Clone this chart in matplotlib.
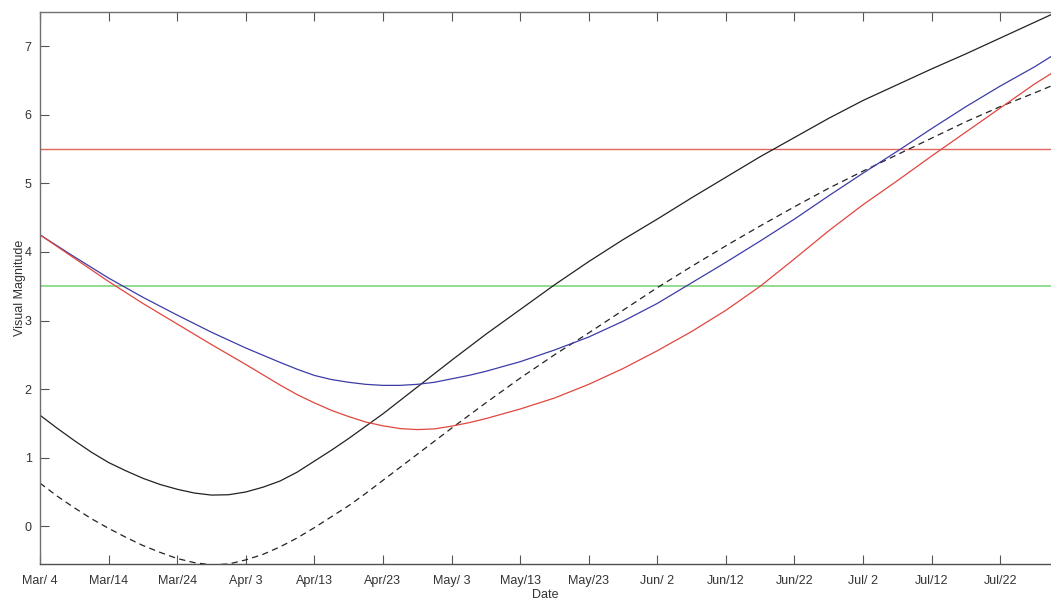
import matplotlib
matplotlib.use("Agg")
import matplotlib.pyplot as plt

plt.rcParams["font.family"] = ["Liberation Sans", "DejaVu Sans"]

# day offsets are counted from Mar 4
days_black = [0, 2.5, 5, 7.5, 10, 12.5, 15, 17.5, 20, 22.5, 25, 27.5, 30,
              32.5, 35, 37.5, 40, 42.5, 45, 47.5, 50, 55, 60, 65, 70, 75,
              80, 85, 90, 95, 100, 105, 110, 115, 120, 125, 130, 135, 140,
              145, 147.4]

mag_solid = [1.62, 1.43, 1.25, 1.08, 0.93, 0.81, 0.70, 0.61, 0.54, 0.485,
             0.455, 0.46, 0.50, 0.57, 0.66, 0.79, 0.95, 1.11, 1.28, 1.46,
             1.64, 2.03, 2.42, 2.80, 3.16, 3.52, 3.86, 4.18, 4.48, 4.79,
             5.09, 5.39, 5.67, 5.95, 6.21, 6.44, 6.67, 6.89, 7.12, 7.35, 7.46]

mag_dashed = [0.63, 0.44, 0.27, 0.11, -0.03, -0.16, -0.28, -0.38, -0.47,
              -0.53, -0.563, -0.55, -0.49, -0.41, -0.30, -0.17, -0.02, 0.14,
              0.30, 0.48, 0.67, 1.05, 1.43, 1.80, 2.16, 2.50, 2.82, 3.15,
              3.48, 3.79, 4.09, 4.38, 4.66, 4.93, 5.18, 5.42, 5.66, 5.90,
              6.12, 6.32, 6.42]

days_color = [0, 5, 10, 15, 20, 25, 30, 35, 37.5, 40, 42.5, 45, 47.5, 50,
              52.5, 55, 57.5, 60, 62.5, 65, 70, 75, 80, 85, 90, 95, 100,
              105, 110, 115, 120, 125, 130, 135, 140, 145, 147.4]

mag_blue = [4.25, 3.93, 3.62, 3.34, 3.08, 2.83, 2.60, 2.39, 2.29, 2.20,
            2.14, 2.10, 2.07, 2.055, 2.055, 2.07, 2.10, 2.15, 2.20, 2.26,
            2.40, 2.57, 2.76, 2.99, 3.25, 3.55, 3.85, 4.16, 4.48, 4.82,
            5.15, 5.47, 5.80, 6.12, 6.42, 6.70, 6.85]

mag_red = [4.25, 3.91, 3.57, 3.25, 2.95, 2.65, 2.36, 2.06, 1.92, 1.80,
           1.69, 1.60, 1.52, 1.465, 1.425, 1.41, 1.42, 1.46, 1.51, 1.57,
           1.71, 1.87, 2.07, 2.30, 2.56, 2.84, 3.15, 3.50, 3.90, 4.31,
           4.69, 5.04, 5.40, 5.75, 6.10, 6.45, 6.60]

limit_red = 5.5
limit_green = 3.5

tick_days = [0, 10, 20, 30, 40, 50, 60, 70, 80, 90, 100, 110, 120, 130, 140]
tick_labels = ["Mar/ 4", "Mar/14", "Mar/24", "Apr/ 3", "Apr/13", "Apr/23",
               "May/ 3", "May/13", "May/23", "Jun/ 2", "Jun/12", "Jun/22",
               "Jul/ 2", "Jul/12", "Jul/22"]

fig = plt.figure(figsize=(10.51, 5.99), dpi=100)
ax = fig.add_axes([40 / 1051, 35 / 599, 1 - 40 / 1051, 552 / 599])

ax.axhline(limit_red, color="#e0665e", lw=1.0)
ax.axhline(limit_green, color="#92dc92", lw=1.4)

ax.plot(days_black, mag_solid, color="#222222", lw=0.9)
ax.plot(days_black, mag_dashed, color="#222222", lw=0.9, ls=(0, (5, 3.5)))
ax.plot(days_color, mag_blue, color="#3c3ca8", lw=0.9)
ax.plot(days_color, mag_red, color="#e0463e", lw=0.9)

ax.set_xlim(0, 147.4)
ax.set_ylim(-0.55, 7.5)
ax.set_xticks(tick_days)
ax.set_xticklabels(tick_labels)
ax.set_yticks(range(0, 8))

for side in ("left", "bottom", "top"):
    ax.spines[side].set_color("#707070")
    ax.spines[side].set_linewidth(1.0)
ax.spines["bottom"].set_color("#505050")
ax.spines["right"].set_visible(False)

ax.tick_params(direction="in", length=6.5, width=0.8, color="#555555",
               labelsize=9, labelcolor="#333333", top=True, right=False)
ax.tick_params(axis="x", pad=8)
ax.tick_params(axis="y", pad=6)

ax.set_xlabel("Date", fontsize=9, color="#333333", labelpad=1)
ax.set_ylabel("Visual Magnitude", fontsize=9, color="#333333", labelpad=-1)

fig.savefig("out.png", dpi=100)
